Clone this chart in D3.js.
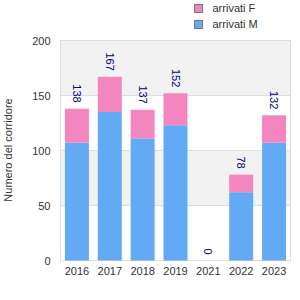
<!DOCTYPE html>
<html><head><meta charset="utf-8">
<script src="https://cdn.jsdelivr.net/npm/d3@7"></script>
<style>body{margin:0;background:#fff}svg{display:block}text{font-family:Arial,"Liberation Sans",sans-serif}</style>
</head><body>
<script>
const years = ["2016","2017","2018","2019","2021","2022","2023"];
const maschi = [107,135,111,123,0,62,107];
const femmine = [31,32,26,29,0,16,25];
const totals = [138,167,137,152,0,78,132];
const yTicks = [0,50,100,150,200];
const seriesNames = ["arrivati F","arrivati M"];
const colors = {F:"#f386be", M:"#62aaf4"};

const W=300,H=300, L=60.5, R=290.5, T=40.5, B=260.5;
const svg=d3.select("body").append("svg").attr("width",W).attr("height",H);
const x=d3.scaleBand().domain(years).range([L,R]).paddingInner(0.27).paddingOuter(0.135);
const y=d3.scaleLinear().domain([0,200]).range([B,T]);

// bands
for(let i=0;i<yTicks.length-1;i++){
  svg.append("rect").attr("x",L).attr("y",y(yTicks[i+1])).attr("width",R-L).attr("height",y(yTicks[i])-y(yTicks[i+1]))
    .attr("fill", i%2===1 ? "#f2f2f2" : "#ffffff");
}
svg.selectAll(".grid").data(yTicks).enter().append("line")
  .attr("x1",L).attr("x2",R).attr("y1",d=>y(d)).attr("y2",d=>y(d)).attr("stroke","#dddddd");
svg.append("rect").attr("x",L).attr("y",T).attr("width",R-L).attr("height",B-T).attr("fill","none").attr("stroke","#dddddd");

const data=years.map((yr,i)=>({yr,m:maschi[i],f:femmine[i],t:totals[i]}));
svg.selectAll(".m").data(data).enter().append("rect")
  .attr("x",d=>x(d.yr)).attr("width",x.bandwidth()).attr("y",d=>y(d.m)).attr("height",d=>y(0)-y(d.m)).attr("fill",colors.M);
svg.selectAll(".f").data(data).enter().append("rect")
  .attr("x",d=>x(d.yr)).attr("width",x.bandwidth()).attr("y",d=>y(d.m+d.f)).attr("height",d=>y(d.m)-y(d.m+d.f)).attr("fill",colors.F);
svg.selectAll(".lbl").data(data).enter().append("text")
  .attr("transform",d=>`translate(${x(d.yr)+x.bandwidth()/2},${y(d.t)-6}) rotate(90)`)
  .attr("text-anchor","end").attr("dy","0.35em").attr("font-size",11).attr("fill","#000080").text(d=>d.t);

// axes
const yAxis=svg.append("g").attr("transform",`translate(${L},0)`).call(d3.axisLeft(y).tickValues(yTicks).tickSize(0).tickPadding(10));
yAxis.select(".domain").remove();
yAxis.selectAll("text").attr("font-size",11).attr("fill","#333").attr("font-family","Arial,'Liberation Sans',sans-serif");
const xAxis=svg.append("g").attr("transform",`translate(0,${B})`).call(d3.axisBottom(x).tickSize(0).tickPadding(7));
xAxis.select(".domain").remove();
xAxis.selectAll("text").attr("font-size",11).attr("fill","#333").attr("font-family","Arial,'Liberation Sans',sans-serif");

svg.append("text").attr("transform","translate(8,150) rotate(-90)").attr("text-anchor","middle").attr("dy","0.35em")
  .attr("font-size",11).attr("fill","#333").text("Numero del corridore");

// legend
const lg=svg.selectAll(".lg").data(seriesNames).enter().append("g").attr("transform",(d,i)=>`translate(194.5,${4.5+i*16})`);
lg.append("rect").attr("width",8).attr("height",8).attr("fill",(d,i)=>i===0?colors.F:colors.M).attr("stroke","#777");
lg.append("text").attr("x",18).attr("y",4).attr("dy","0.35em").attr("font-size",11).attr("fill","#333").text(d=>d);
</script>
</body></html>
